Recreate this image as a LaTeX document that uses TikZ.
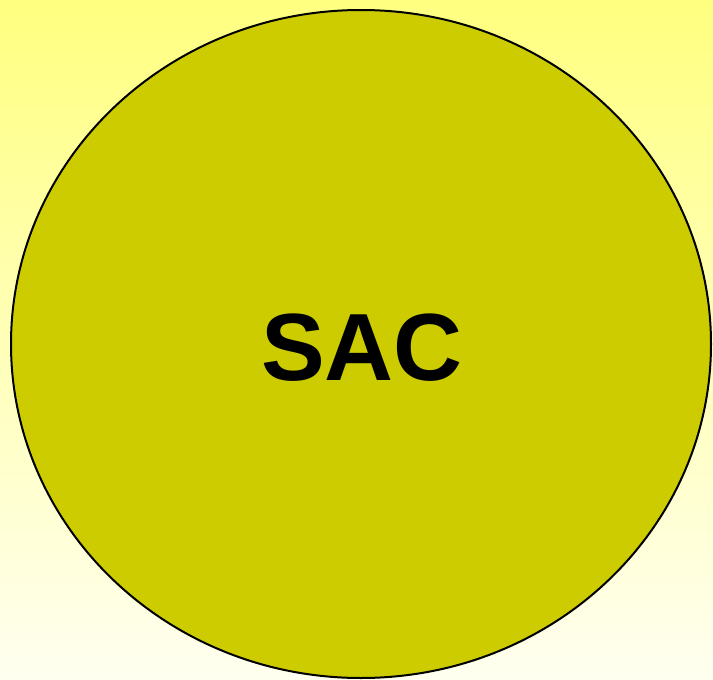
\documentclass[tikz,border=0pt]{standalone}
\usepackage{fontspec}
\setmainfont{Liberation Sans}
\usetikzlibrary{shapes.geometric}
\definecolor{bgtop}{HTML}{FFFF80}
\definecolor{bgbot}{HTML}{FFFFF0}
\definecolor{sacfill}{HTML}{CCCC00}
\begin{document}
\begin{tikzpicture}[x=1pt,y=-1pt,
  bubble/.style={ellipse, draw=black, line width=2pt, fill=sacfill, minimum width=700pt, minimum height=668pt, inner sep=0pt},
  label/.style={font=\fontsize{95.5}{100}\selectfont\bfseries, text=black}]
\shade[top color=bgtop, bottom color=bgbot] (0,0) rectangle (713,680);
\useasboundingbox (0,0) rectangle (713,680);
\node[bubble] (sac) at (361,344) {};
\node[label, anchor=base] (t) at (362,380) {SAC};
\end{tikzpicture}
\end{document}
